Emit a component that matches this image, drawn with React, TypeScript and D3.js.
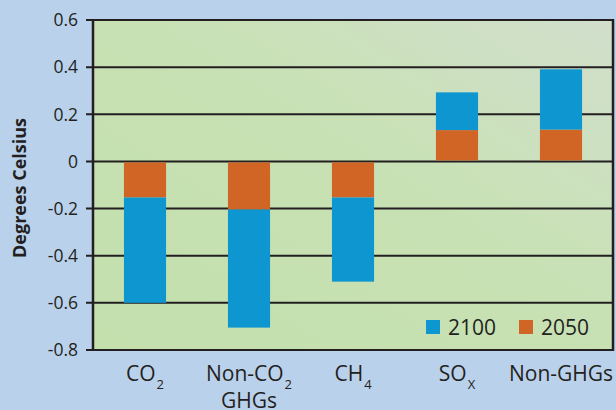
// Stacked bars: warming avoided by 2050 and 2100 per emission category.
import { useEffect, useRef } from "react";
import * as d3 from "d3";

const categories = ["CO2", "Non-CO2 GHGs", "CH4", "SOx", "Non-GHGs"];
// label parts: [main text, subscript] per line
const labelLines: [string, string][][] = [
  [["CO", "2"]],
  [["Non-CO", "2"], ["GHGs", ""]],
  [["CH", "4"]],
  [["SO", "X"]],
  [["Non-GHGs", ""]],
];
const values2050 = [-0.153, -0.204, -0.153, 0.133, 0.135];
const values2100 = [-0.6, -0.705, -0.51, 0.293, 0.391];
const yTicks = [0.6, 0.4, 0.2, 0, -0.2, -0.4, -0.6, -0.8];
const legendItems = [
  { name: "2100", color: "#0e96d0" },
  { name: "2050", color: "#d06526" },
];

const W = 616;
const H = 410;
const margin = { top: 20, right: 3, bottom: 60, left: 93 };

export default function App() {
  const svgRef = useRef<SVGSVGElement | null>(null);

  useEffect(() => {
    const svg = d3.select(svgRef.current);
    svg.selectAll("*").remove();
    const font = "'Open Sans', sans-serif";
    const left = margin.left;
    const right = W - margin.right;
    const top = margin.top;
    const bottom = H - margin.bottom;

    const x = d3.scaleBand<string>().domain(categories).range([left, right]).padding(0);
    const y = d3.scaleLinear().domain([-0.8, 0.6]).range([bottom, top]);
    const barW = x.bandwidth() * 0.405;

    svg.append("rect").attr("width", W).attr("height", H).attr("fill", "#bad1eb");

    const defs = svg.append("defs");
    const grad = defs.append("linearGradient").attr("id", "plotbg")
      .attr("x1", 0).attr("y1", 1).attr("x2", 1).attr("y2", 0);
    grad.append("stop").attr("offset", 0).attr("stop-color", "#c4e0ad");
    grad.append("stop").attr("offset", 0.55).attr("stop-color", "#c8e1b4");
    grad.append("stop").attr("offset", 1).attr("stop-color", "#d1dfcc");

    svg.append("rect")
      .attr("x", left).attr("y", top)
      .attr("width", right - left).attr("height", bottom - top)
      .attr("fill", "url(#plotbg)");

    // gridlines + ticks
    svg.append("g")
      .selectAll("line")
      .data(yTicks)
      .join("line")
      .attr("x1", left - 7).attr("x2", right)
      .attr("y1", d => y(d)).attr("y2", d => y(d))
      .attr("stroke", "#231f20").attr("stroke-width", 2);

    // bars: 2050 from zero, 2100 stacked onto it
    const bars = svg.append("g");
    bars.selectAll(".b2050")
      .data(categories)
      .join("rect")
      .attr("class", "b2050")
      .attr("x", d => x(d)! + (x.bandwidth() - barW) / 2)
      .attr("width", barW)
      .attr("y", (d, i) => Math.min(y(0), y(values2050[i])) + (values2050[i] < 0 ? 1 : 0))
      .attr("height", (d, i) => Math.abs(y(values2050[i]) - y(0)) - 1)
      .attr("fill", legendItems[1].color);
    bars.selectAll(".b2100")
      .data(categories)
      .join("rect")
      .attr("class", "b2100")
      .attr("x", d => x(d)! + (x.bandwidth() - barW) / 2)
      .attr("width", barW)
      .attr("y", (d, i) => Math.min(y(values2050[i]), y(values2100[i])))
      .attr("height", (d, i) => Math.abs(y(values2100[i]) - y(values2050[i])))
      .attr("fill", legendItems[0].color);

    // axis lines
    svg.append("line").attr("x1", left).attr("x2", left).attr("y1", top - 1).attr("y2", bottom + 1)
      .attr("stroke", "#231f20").attr("stroke-width", 2.5);
    svg.append("line").attr("x1", right).attr("x2", right).attr("y1", top - 1).attr("y2", bottom + 1)
      .attr("stroke", "#231f20").attr("stroke-width", 2.5);

    // tick labels
    svg.append("g")
      .selectAll("text")
      .data(yTicks)
      .join("text")
      .attr("x", left - 15)
      .attr("y", d => y(d))
      .attr("dy", "0.36em")
      .attr("text-anchor", "end")
      .attr("font-family", font)
      .attr("font-size", 17.5)
      .attr("fill", "#231f20")
      .text(d => (d === 0 ? "0" : d.toFixed(1)));

    // category labels with subscripts
    const cat = svg.append("g")
      .selectAll("g")
      .data(categories)
      .join("g")
      .attr("transform", d => `translate(${x(d)! + x.bandwidth() / 2},0)`);
    cat.each(function (d, i) {
      const g = d3.select(this);
      labelLines[i].forEach((line, li) => {
        const t = g.append("text")
          .attr("y", 381 + li * 27)
          .attr("text-anchor", "middle")
          .attr("font-family", font)
          .attr("font-size", 21)
          .attr("fill", "#231f20");
        t.append("tspan").text(line[0]);
        if (line[1]) {
          t.append("tspan").attr("font-size", 13).attr("dy", 8).attr("dx", 1).text(line[1]);
        }
      });
    });

    // y axis title
    svg.append("text")
      .attr("transform", `translate(26,${(top + bottom) / 2 + 3}) rotate(-90)`)
      .attr("text-anchor", "middle")
      .attr("font-family", font)
      .attr("font-weight", "bold")
      .attr("font-size", 18)
      .attr("fill", "#231f20")
      .text("Degrees Celsius");

    // legend
    const lg = svg.append("g")
      .selectAll("g")
      .data(legendItems)
      .join("g")
      .attr("transform", (d, i) => `translate(${426 + i * 93},320)`);
    lg.append("rect").attr("width", 14).attr("height", 14).attr("fill", d => d.color);
    lg.append("text")
      .attr("x", 22).attr("y", 15)
      .attr("font-family", font)
      .attr("font-size", 21)
      .attr("fill", "#231f20")
      .text(d => d.name);
  }, []);

  return (
    <svg
      ref={svgRef}
      width={W}
      height={H}
      style={{ position: "absolute", left: 0, top: 0, display: "block" }}
    />
  );
}
